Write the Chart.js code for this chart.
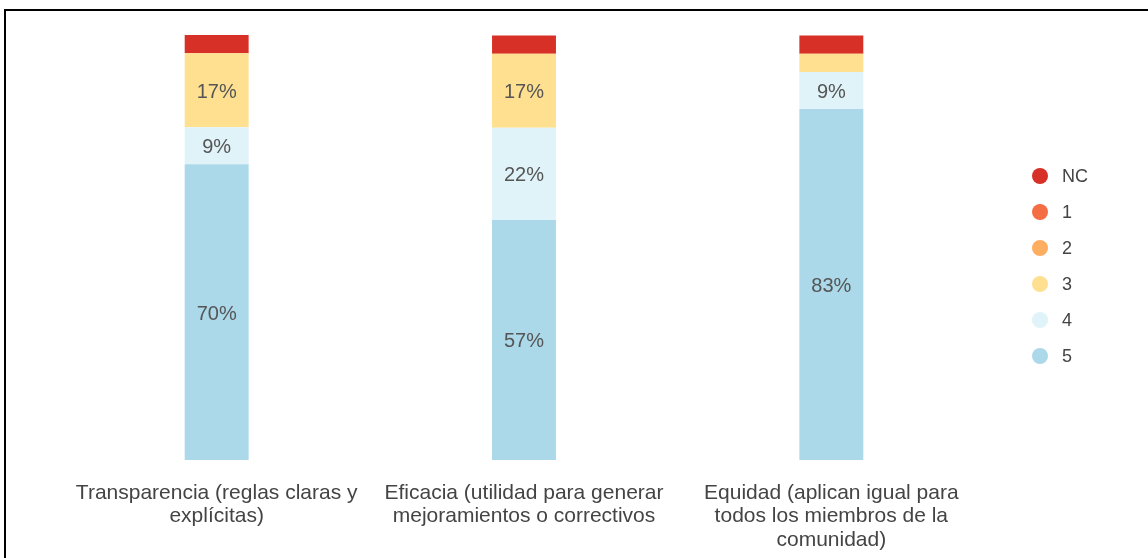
<!DOCTYPE html>
<html>
<head>
<meta charset="utf-8">
<script src="https://cdn.jsdelivr.net/npm/chart.js@4/dist/chart.umd.min.js"></script>
<style>
    html, body { margin: 0; padding: 0; background: #fff; overflow: hidden; }
    #wrap { position: relative; width: 1148px; height: 558px; }
    #frame { position: absolute; left: 4px; top: 9px; width: 1160px; height: 570px; border: 2px solid #000; pointer-events: none; }
    canvas { position: absolute; left: 0; top: 0; }
</style>
</head>
<body>
<div id="wrap">
    <canvas id="surveyChart" width="1148" height="558"></canvas>
    <div id="frame"></div>
</div>
<script>
// Categories (multi-line axis labels)
const categories = [
    ['Transparencia (reglas claras y', 'explícitas)'],
    ['Eficacia (utilidad para generar', 'mejoramientos o correctivos'],
    ['Equidad (aplican igual para', 'todos los miembros de la', 'comunidad)']
];

// Series, stacked bottom to top (percent)
const seriesNames = ['5', '4', '3', '2', '1', 'NC'];
const val5 = [69.6, 56.5, 82.6];
const val4 = [8.7, 21.7, 8.7];
const val3 = [17.4, 17.4, 4.3];
const val2 = [0, 0, 0];
const val1 = [0, 0, 0];
const valNC = [4.3, 4.3, 4.3];

// Preference color
const colors = ['#abd9e9', '#e0f3f8', '#fee090', '#fdae61', '#f46d43', '#d73027'];
const textGray = '#555';
const labelGray = '#444';
const font = '"Liberation Sans", Arial, sans-serif';

// percent labels inside the segments
const valueLabels = {
    id: 'valueLabels',
    afterDatasetsDraw(chart) {
        const ctx = chart.ctx;
        ctx.save();
        ctx.font = '20px ' + font;
        ctx.fillStyle = textGray;
        ctx.textAlign = 'center';
        ctx.textBaseline = 'middle';
        chart.data.datasets.forEach((ds, i) => {
            chart.getDatasetMeta(i).data.forEach((bar, j) => {
                const v = ds.data[j];
                if (v < 8) return;
                ctx.fillText(Math.round(v) + '%', bar.x, (bar.y + bar.base) / 2 + 2);
            });
        });
        ctx.restore();
    }
};

// legend on the right, NC on top
const sideLegend = {
    id: 'sideLegend',
    afterDraw(chart) {
        const ctx = chart.ctx;
        const items = chart.data.datasets.slice().reverse();
        ctx.save();
        ctx.font = '18px ' + font;
        ctx.textAlign = 'left';
        ctx.textBaseline = 'middle';
        items.forEach((ds, i) => {
            const y = 176 + i * 36;
            ctx.beginPath();
            ctx.arc(1040, y, 8, 0, Math.PI * 2);
            ctx.fillStyle = ds.backgroundColor;
            ctx.fill();
            ctx.fillStyle = labelGray;
            ctx.fillText(ds.label, 1062, y + 1);
        });
        ctx.restore();
    }
};

const allValues = [val5, val4, val3, val2, val1, valNC];

const ctx1 = document.getElementById('surveyChart').getContext('2d');
new Chart(ctx1, {
    type: 'bar',
    data: {
        labels: categories,
        datasets: seriesNames.map((name, i) => ({
            label: name,
            data: allValues[i],
            backgroundColor: colors[i],
            borderWidth: 0,
            barPercentage: 0.208,
            categoryPercentage: 1
        }))
    },
    options: {
        responsive: false,
        animation: false,
        devicePixelRatio: 1,
        layout: { padding: { left: 63, right: 163, top: 35, bottom: 6.5 } },
        plugins: { legend: { display: false }, tooltip: { enabled: false } },
        scales: {
            x: {
                stacked: true,
                grid: { display: false, drawTicks: false },
                border: { display: false },
                afterFit: (s) => { s.height = 91.5; },
                ticks: {
                    color: labelGray,
                    font: { family: font, size: 21, lineHeight: 1.12 },
                    padding: 21,
                    maxRotation: 0,
                    autoSkip: false
                }
            },
            y: { stacked: true, display: false, min: 0, max: 100 }
        }
    },
    plugins: [valueLabels, sideLegend]
});
</script>
</body>
</html>
